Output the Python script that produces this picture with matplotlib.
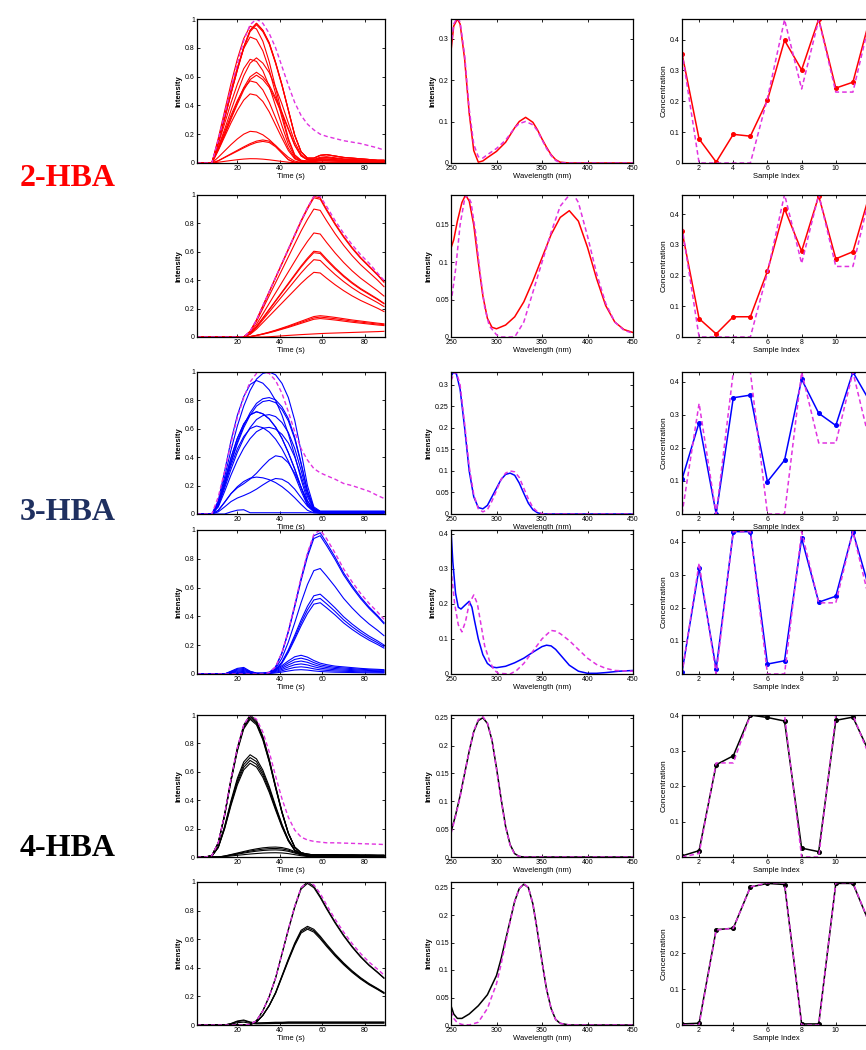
import numpy as np
import matplotlib
matplotlib.use("Agg")
import matplotlib.pyplot as plt

plt.rcParams['font.family'] = ['Liberation Sans', 'DejaVu Sans']

# ---------------- data ----------------
time_s = [1, 5, 8, 11, 14, 17, 20, 23, 26, 29, 32, 35, 38, 41, 44, 47, 50, 53, 56, 59, 62, 66, 70, 74, 78, 82, 86, 89]

# Row 1 (2-HBA, first) elution profiles (normalised) + peak heights
r1_main = [0, 0, 0, 0.15, 0.32, 0.5, 0.67, 0.83, 0.95, 1.0, 0.95, 0.86, 0.72, 0.56, 0.38, 0.2, 0.08, 0.035, 0.035, 0.055, 0.06, 0.05, 0.04, 0.035, 0.03, 0.025, 0.02, 0.02]
r1_early = [0, 0, 0, 0.18, 0.38, 0.58, 0.76, 0.91, 1.0, 0.98, 0.89, 0.74, 0.55, 0.36, 0.18, 0.06, 0.02, 0.015, 0.02, 0.03, 0.03, 0.025, 0.02, 0.02, 0.015, 0.015, 0.015, 0.015]
r1_broad = [0, 0, 0, 0.1, 0.25, 0.4, 0.55, 0.7, 0.84, 0.95, 1.0, 0.95, 0.75, 0.45, 0.15, 0.03, 0.0, 0.01, 0.01, 0.01, 0.01, 0.01, 0.01, 0.01, 0.01, 0.01, 0.01, 0.01]
r1_h_main = [0.97, 0.97, 0.96, 0.73, 0.63, 0.61]
r1_h_early = [0.95, 0.875, 0.72, 0.57, 0.48, 0.22, 0.03]
r1_h_broad = [0.16, 0.15]
r1_true = [0, 0, 0, 0.16, 0.34, 0.52, 0.69, 0.85, 0.96, 1.0, 0.97, 0.9, 0.8, 0.67, 0.54, 0.42, 0.33, 0.27, 0.23, 0.2, 0.185, 0.17, 0.155, 0.145, 0.135, 0.12, 0.105, 0.09]

# Row 2 (2-HBA, second)
r2_main = [0, 0, 0, 0, 0, 0, 0, 0, 0.04, 0.12, 0.22, 0.32, 0.42, 0.52, 0.62, 0.72, 0.82, 0.91, 0.99, 0.98, 0.9, 0.8, 0.71, 0.63, 0.56, 0.5, 0.44, 0.39]
r2_small = [0, 0, 0, 0, 0, 0, 0, 0, 0.02, 0.08, 0.15, 0.23, 0.32, 0.42, 0.52, 0.63, 0.74, 0.85, 0.96, 1.0, 0.97, 0.92, 0.86, 0.8, 0.75, 0.7, 0.65, 0.62]
r2_tail = [0, 0, 0, 0, 0, 0, 0, 0, 0, 0, 0, 0.05, 0.12, 0.2, 0.28, 0.35, 0.42, 0.48, 0.54, 0.6, 0.65, 0.7, 0.75, 0.8, 0.85, 0.9, 0.95, 1.0]
r2_h_main = [1.0, 0.99, 0.91, 0.74, 0.61, 0.6, 0.55, 0.46]
r2_h_small = [0.15, 0.14, 0.13]
r2_h_tail = [0.04]
r2_true = [0, 0, 0, 0, 0, 0, 0, 0, 0.04, 0.12, 0.22, 0.32, 0.42, 0.52, 0.62, 0.72, 0.82, 0.91, 0.99, 0.99, 0.92, 0.82, 0.73, 0.65, 0.58, 0.52, 0.45, 0.4]

# Row 3 (3-HBA, first)
r3_main = [0, 0, 0, 0.08, 0.26, 0.45, 0.62, 0.76, 0.87, 0.95, 0.99, 1.0, 0.98, 0.92, 0.82, 0.66, 0.44, 0.2, 0.05, 0.02, 0.02, 0.02, 0.02, 0.02, 0.02, 0.02, 0.02, 0.02]
r3_early = [0, 0, 0, 0.1, 0.32, 0.55, 0.74, 0.88, 0.97, 1.0, 0.98, 0.93, 0.85, 0.74, 0.6, 0.44, 0.26, 0.1, 0.03, 0.02, 0.02, 0.02, 0.02, 0.02, 0.02, 0.02, 0.02, 0.02]
r3_late = [0, 0, 0, 0.06, 0.2, 0.35, 0.45, 0.52, 0.6, 0.7, 0.82, 0.93, 1.0, 0.98, 0.88, 0.7, 0.46, 0.22, 0.06, 0.02, 0.02, 0.02, 0.02, 0.02, 0.02, 0.02, 0.02, 0.02]
r3_tiny = [0, 0, 0, 0, 0, 0.5, 0.9, 1.0, 0.3, 0.3, 0.3, 0.3, 0.3, 0.3, 0.3, 0.3, 0.3, 0.3, 0.3, 0.3, 0.3, 0.3, 0.3, 0.3, 0.3, 0.3, 0.3, 0.3]
r3_h_main = [1.0, 0.82, 0.8, 0.7, 0.61]
r3_h_early = [0.94, 0.72, 0.72, 0.62, 0.26]
r3_h_late = [0.41, 0.25]
r3_h_tiny = [0.03]
r3_true = [0, 0, 0, 0.12, 0.3, 0.5, 0.68, 0.82, 0.93, 0.99, 1.0, 0.99, 0.94, 0.85, 0.72, 0.58, 0.46, 0.38, 0.32, 0.29, 0.27, 0.245, 0.215, 0.2, 0.18, 0.16, 0.13, 0.11]

# Row 4 (3-HBA, second)
r4_main = [0, 0, 0, 0, 0, 0, 0, 0, 0, 0, 0, 0.01, 0.05, 0.15, 0.3, 0.48, 0.67, 0.84, 0.97, 0.99, 0.92, 0.82, 0.71, 0.62, 0.54, 0.47, 0.41, 0.36]
r4_small = [0, 0, 0, 0, 0, 0.15, 0.3, 0.35, 0.15, 0.05, 0.05, 0.1, 0.25, 0.45, 0.7, 0.92, 1.0, 0.9, 0.72, 0.58, 0.5, 0.42, 0.38, 0.34, 0.3, 0.27, 0.25, 0.23]
r4_h_main = [0.99, 0.97, 0.74, 0.56, 0.53, 0.5]
r4_h_small = [0.13, 0.11, 0.09, 0.07, 0.05, 0.03]
r4_true = [0, 0, 0, 0, 0, 0, 0, 0, 0, 0, 0, 0.01, 0.05, 0.15, 0.3, 0.48, 0.67, 0.84, 0.97, 1.0, 0.94, 0.84, 0.73, 0.64, 0.56, 0.49, 0.43, 0.38]

# Row 5 (4-HBA, first)
r5_main = [0, 0, 0.01, 0.1, 0.3, 0.55, 0.77, 0.93, 1.0, 0.96, 0.85, 0.69, 0.5, 0.32, 0.17, 0.07, 0.03, 0.02, 0.015, 0.015, 0.015, 0.015, 0.014, 0.014, 0.013, 0.013, 0.012, 0.012]
r5_small = [0, 0, 0, 0, 0.1, 0.25, 0.4, 0.55, 0.7, 0.82, 0.92, 0.98, 1.0, 0.95, 0.8, 0.55, 0.3, 0.12, 0.05, 0.02, 0.01, 0.01, 0.01, 0.01, 0.01, 0.01, 0.01, 0.01]
r5_h_main = [1.0, 0.99, 0.98, 0.97, 0.72, 0.7, 0.68, 0.66]
r5_h_small = [0.07, 0.06, 0.05, 0.03]
r5_true = [0, 0, 0.01, 0.1, 0.3, 0.55, 0.77, 0.93, 1.0, 0.97, 0.88, 0.74, 0.57, 0.41, 0.28, 0.19, 0.14, 0.12, 0.11, 0.105, 0.1, 0.1, 0.098, 0.096, 0.094, 0.092, 0.09, 0.088]

# Row 6 (4-HBA, second)
r6_main = [0, 0, 0, 0, 0, 0, 0, 0, 0.005, 0.03, 0.1, 0.2, 0.33, 0.5, 0.67, 0.83, 0.96, 1.0, 0.97, 0.9, 0.82, 0.72, 0.63, 0.55, 0.48, 0.42, 0.37, 0.33]
r6_small = [0, 0, 0, 0, 0, 0.3, 0.8, 1.0, 0.6, 0.4, 0.45, 0.5, 0.55, 0.55, 0.6, 0.6, 0.6, 0.6, 0.6, 0.6, 0.6, 0.6, 0.6, 0.6, 0.6, 0.6, 0.6, 0.6]
r6_h_main = [1.0, 0.99, 0.69, 0.68, 0.67]
r6_h_small = [0.035, 0.03, 0.02]
r6_true = [0, 0, 0, 0, 0, 0, 0, 0, 0.005, 0.03, 0.1, 0.2, 0.33, 0.5, 0.67, 0.83, 0.96, 1.0, 0.98, 0.92, 0.84, 0.74, 0.65, 0.57, 0.5, 0.44, 0.39, 0.35]

# Spectra (wavelength, intensity)
s1_wl = [250, 253, 257, 260, 265, 270, 275, 280, 285, 290, 300, 310, 320, 325, 332, 340, 345, 350, 355, 360, 365, 370, 380, 450]
s1_est = [0.27, 0.33, 0.347, 0.335, 0.25, 0.12, 0.03, 0.002, 0.005, 0.013, 0.028, 0.05, 0.085, 0.1, 0.11, 0.098, 0.08, 0.058, 0.038, 0.02, 0.008, 0.002, 0, 0]
s1_true = [0.28, 0.335, 0.35, 0.34, 0.26, 0.13, 0.045, 0.015, 0.012, 0.02, 0.035, 0.055, 0.085, 0.095, 0.1, 0.092, 0.078, 0.056, 0.035, 0.018, 0.006, 0.001, 0, 0]

s2_wl = [250, 253, 257, 262, 266, 270, 275, 280, 285, 290, 295, 300, 310, 320, 330, 340, 350, 360, 370, 380, 390, 400, 410, 420, 430, 440, 450]
s2_est = [0.119, 0.13, 0.155, 0.18, 0.19, 0.182, 0.15, 0.1, 0.055, 0.025, 0.013, 0.011, 0.016, 0.027, 0.047, 0.075, 0.106, 0.137, 0.16, 0.169, 0.155, 0.12, 0.078, 0.042, 0.02, 0.01, 0.006]
s2_true_wl = [250, 255, 260, 265, 268, 272, 277, 282, 287, 292, 300, 305, 320, 330, 340, 350, 360, 370, 380, 385, 390, 400, 410, 420, 430, 440, 450]
s2_true = [0.045, 0.09, 0.15, 0.185, 0.19, 0.18, 0.14, 0.085, 0.04, 0.015, 0.003, 0, 0, 0.02, 0.06, 0.1, 0.14, 0.175, 0.19, 0.19, 0.18, 0.135, 0.085, 0.045, 0.02, 0.009, 0.005]

s3_wl = [250, 253, 256, 260, 265, 270, 275, 280, 285, 290, 295, 300, 305, 310, 315, 320, 325, 330, 335, 340, 345, 350, 355, 450]
s3_est = [0.32, 0.33, 0.325, 0.29, 0.2, 0.1, 0.04, 0.015, 0.012, 0.02, 0.04, 0.06, 0.08, 0.092, 0.095, 0.09, 0.072, 0.048, 0.025, 0.01, 0.003, 0, 0, 0]
s3_true = [0.31, 0.325, 0.33, 0.3, 0.21, 0.11, 0.045, 0.012, 0.005, 0.01, 0.03, 0.055, 0.08, 0.095, 0.1, 0.098, 0.085, 0.06, 0.035, 0.015, 0.005, 0.001, 0, 0]

s4_wl = [250, 252, 255, 258, 261, 265, 270, 273, 276, 280, 285, 290, 295, 300, 310, 320, 330, 340, 350, 355, 360, 365, 370, 375, 380, 390, 400, 410, 420, 435, 450]
s4_est = [0.41, 0.32, 0.23, 0.19, 0.185, 0.195, 0.207, 0.19, 0.15, 0.1, 0.055, 0.03, 0.02, 0.018, 0.022, 0.032, 0.045, 0.062, 0.078, 0.082, 0.08, 0.07, 0.055, 0.04, 0.025, 0.008, 0.002, 0.002, 0.004, 0.008, 0.01]
s4_true_wl = [250, 254, 258, 262, 266, 270, 275, 279, 283, 287, 292, 297, 302, 315, 322, 330, 340, 350, 360, 365, 370, 380, 390, 400, 410, 420, 430, 450]
s4_true = [0.3, 0.2, 0.14, 0.12, 0.15, 0.2, 0.225, 0.2, 0.14, 0.08, 0.04, 0.012, 0.002, 0, 0.01, 0.03, 0.065, 0.1, 0.124, 0.122, 0.115, 0.095, 0.07, 0.045, 0.027, 0.016, 0.01, 0.008]

s5_wl = [250, 255, 260, 265, 270, 275, 280, 285, 290, 295, 300, 305, 310, 315, 320, 325, 330, 450]
s5_est = [0.045, 0.075, 0.11, 0.15, 0.19, 0.225, 0.245, 0.25, 0.24, 0.21, 0.16, 0.105, 0.055, 0.022, 0.006, 0.001, 0, 0]
s5_true = [0.042, 0.073, 0.108, 0.15, 0.19, 0.226, 0.247, 0.252, 0.241, 0.21, 0.158, 0.103, 0.054, 0.021, 0.005, 0.001, 0, 0]

s6_wl = [250, 253, 257, 262, 270, 280, 290, 300, 305, 310, 315, 320, 325, 330, 335, 340, 345, 350, 355, 360, 365, 370, 380, 450]
s6_est = [0.035, 0.02, 0.012, 0.012, 0.02, 0.035, 0.055, 0.09, 0.12, 0.155, 0.19, 0.225, 0.248, 0.256, 0.25, 0.22, 0.17, 0.115, 0.065, 0.03, 0.01, 0.003, 0, 0]
s6_true = [0.025, 0.012, 0.004, 0.001, 0.0, 0.005, 0.03, 0.075, 0.11, 0.15, 0.188, 0.225, 0.248, 0.257, 0.25, 0.22, 0.17, 0.115, 0.065, 0.03, 0.01, 0.003, 0, 0]

# Concentrations
sample_index = [1, 2, 3, 4, 5, 6, 7, 8, 9, 10, 11, 12]
c1_est = [0.355, 0.078, 0.003, 0.093, 0.087, 0.204, 0.398, 0.302, 0.467, 0.243, 0.262, 0.47]
c1_true = [0.36, 0.0, 0.0, 0.0, 0.0, 0.21, 0.465, 0.24, 0.465, 0.23, 0.23, 0.465]
c2_est = [0.345, 0.06, 0.01, 0.066, 0.066, 0.215, 0.418, 0.28, 0.46, 0.255, 0.278, 0.47]
c2_true = [0.36, 0.0, 0.0, 0.0, 0.0, 0.21, 0.465, 0.24, 0.465, 0.23, 0.23, 0.465]
c3_est = [0.105, 0.277, 0.0, 0.352, 0.36, 0.098, 0.163, 0.408, 0.305, 0.268, 0.43, 0.34]
c3_true = [0.0, 0.335, 0.0, 0.43, 0.43, 0.0, 0.0, 0.43, 0.215, 0.215, 0.43, 0.215]
c4_est = [0.005, 0.32, 0.015, 0.43, 0.43, 0.03, 0.04, 0.41, 0.217, 0.235, 0.43, 0.25]
c4_true = [0.0, 0.335, 0.0, 0.43, 0.43, 0.0, 0.0, 0.43, 0.215, 0.215, 0.43, 0.215]
c5_est = [0.003, 0.018, 0.26, 0.285, 0.4, 0.393, 0.383, 0.025, 0.015, 0.385, 0.394, 0.29]
c5_true = [0.0, 0.01, 0.265, 0.265, 0.4, 0.4, 0.4, 0.0, 0.0, 0.4, 0.4, 0.28]
c6_est = [0.003, 0.005, 0.266, 0.27, 0.385, 0.395, 0.392, 0.003, 0.003, 0.395, 0.395, 0.28]
c6_true = [0.0, 0.0, 0.265, 0.27, 0.385, 0.397, 0.397, 0.0, 0.0, 0.397, 0.397, 0.28]

# ---------------- layout ----------------
FW, FH = 866, 1050
fig = plt.figure(figsize=(FW / 100, FH / 100), dpi=100)

rows_px = [(19, 163), (195, 337), (372, 514), (530, 674), (715, 857), (882, 1025)]
cols_px = [(197, 385), (451, 633), (682, 870)]

MAG = '#e033e0'


def make_ax(r, c):
    t, b = rows_px[r]
    l, rr = cols_px[c]
    ax = fig.add_axes([l / FW, 1 - b / FH, (rr - l) / FW, (b - t) / FH])
    ax.set_facecolor('none')
    ax.tick_params(direction='in', length=2, width=0.6, labelsize=5, top=True, right=True, pad=1.5)
    for s in ax.spines.values():
        s.set_linewidth(0.9)
    return ax


row_colors = ['#ff0000', '#ff0000', '#0000ff', '#0000ff', '#000000', '#000000']

chrom = [
    [(r1_main, r1_h_main), (r1_early, r1_h_early), (r1_broad, r1_h_broad)],
    [(r2_main, r2_h_main), (r2_small, r2_h_small), (r2_tail, r2_h_tail)],
    [(r3_main, r3_h_main), (r3_early, r3_h_early), (r3_late, r3_h_late), (r3_tiny, r3_h_tiny)],
    [(r4_main, r4_h_main), (r4_small, r4_h_small)],
    [(r5_main, r5_h_main), (r5_small, r5_h_small)],
    [(r6_main, r6_h_main), (r6_small, r6_h_small)],
]
chrom_true = [r1_true, r2_true, r3_true, r4_true, r5_true, r6_true]

spectra = [
    (s1_wl, s1_est, s1_wl, s1_true, 0.347, [0, 0.1, 0.2, 0.3]),
    (s2_wl, s2_est, s2_true_wl, s2_true, 0.19, [0, 0.05, 0.1, 0.15]),
    (s3_wl, s3_est, s3_wl, s3_true, 0.33, [0, 0.05, 0.1, 0.15, 0.2, 0.25, 0.3]),
    (s4_wl, s4_est, s4_true_wl, s4_true, 0.41, [0, 0.1, 0.2, 0.3, 0.4]),
    (s5_wl, s5_est, s5_wl, s5_true, 0.255, [0, 0.05, 0.1, 0.15, 0.2, 0.25]),
    (s6_wl, s6_est, s6_wl, s6_true, 0.26, [0, 0.05, 0.1, 0.15, 0.2, 0.25]),
]

concs = [
    (c1_est, c1_true, 0.467, [0, 0.1, 0.2, 0.3, 0.4]),
    (c2_est, c2_true, 0.463, [0, 0.1, 0.2, 0.3, 0.4]),
    (c3_est, c3_true, 0.43, [0, 0.1, 0.2, 0.3, 0.4]),
    (c4_est, c4_true, 0.435, [0, 0.1, 0.2, 0.3, 0.4]),
    (c5_est, c5_true, 0.40, [0, 0.1, 0.2, 0.3, 0.4]),
    (c6_est, c6_true, 0.399, [0, 0.1, 0.2, 0.3]),
]

t_arr = np.array(time_s)
for r in range(6):
    col = row_colors[r]
    # ---- chromatograms
    ax = make_ax(r, 0)
    for shape, heights in chrom[r]:
        shp = np.array(shape)
        for h in heights:
            ax.plot(t_arr, h * shp, color=col, lw=0.8)
    ax.plot(t_arr, chrom_true[r], color=MAG, lw=1.0, ls=(0, (3, 2)))
    ax.set_xlim(1, 89.5)
    ax.set_ylim(0, 1.0)
    ax.set_xticks([20, 40, 60, 80])
    ax.set_yticks([0, 0.2, 0.4, 0.6, 0.8, 1.0])
    ax.set_yticklabels(['0', '0.2', '0.4', '0.6', '0.8', '1'])
    ax.set_xlabel('Time (s)', fontsize=5.5, labelpad=1)
    ax.set_ylabel('Intensity', fontsize=5.5, fontweight='bold', labelpad=2)

    # ---- spectra
    wl, est, twl, tru, ymax, yt = spectra[r]
    ax = make_ax(r, 1)
    ax.plot(wl, est, color=col, lw=1.1)
    ax.plot(twl, tru, color=MAG, lw=1.1, ls=(0, (3, 2)))
    ax.set_xlim(250, 450)
    ax.set_ylim(0, ymax)
    ax.set_xticks([250, 300, 350, 400, 450])
    ax.set_yticks(yt)
    ax.set_yticklabels(['0'] + ['%g' % v for v in yt[1:]])
    ax.set_xlabel('Wavelength (nm)', fontsize=5.5, labelpad=1)
    ax.set_ylabel('Intensity', fontsize=5.5, fontweight='bold', labelpad=2)

    # ---- concentrations
    est, tru, ymax, yt = concs[r]
    ax = make_ax(r, 2)
    ax.plot(sample_index, est, color=col, lw=1.1, marker='o', ms=2.6, mfc=col, mec=col)
    ax.plot(sample_index, tru, color=MAG, lw=1.1, ls=(0, (3, 2)))
    ax.set_xlim(1, 12)
    ax.set_ylim(0, ymax)
    ax.set_xticks([2, 4, 6, 8, 10, 12])
    ax.set_yticks(yt)
    ax.set_yticklabels(['0'] + ['%g' % v for v in yt[1:]])
    ax.set_xlabel('Sample Index', fontsize=5.5, labelpad=1)
    ax.set_ylabel('Concentration', fontsize=6, labelpad=2)

# ---- group labels
lab_font = dict(family=['Liberation Serif', 'DejaVu Serif'], fontweight='bold', fontsize=23,
                ha='left', va='center')
fig.text(20 / FW, 1 - 178 / FH, '2-HBA', color='#ff0000', **lab_font)
fig.text(20 / FW, 1 - 513 / FH, '3-HBA', color='#1f3060', **lab_font)
fig.text(20 / FW, 1 - 848 / FH, '4-HBA', color='#000000', **lab_font)

fig.savefig('out.png', dpi=100)
